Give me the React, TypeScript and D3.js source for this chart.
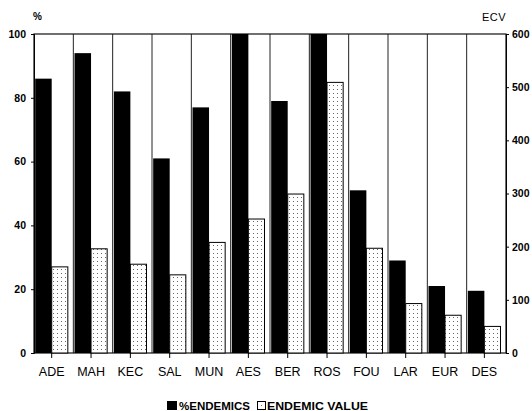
import React, { useEffect, useRef } from "react";
import * as d3 from "d3";

// sites along the x axis
const sites = ["ADE", "MAH", "KEC", "SAL", "MUN", "AES", "BER", "ROS", "FOU", "LAR", "EUR", "DES"];
// % endemics (left axis)
const pctEndemics = [86, 94, 82, 61, 77, 100, 79, 100, 51, 29, 21, 19.5];
// endemic conservation value (right axis)
const endemicValue = [162, 196, 167, 147, 208, 252, 299, 509, 197, 93, 71, 50];
const leftTicks = [0, 20, 40, 60, 80, 100];
const rightTicks = [0, 100, 200, 300, 400, 500, 600];

const App = () => {
  const ref = useRef<SVGSVGElement>(null);

  useEffect(() => {
    const svg = d3.select(ref.current);
    svg.selectAll("*").remove();

    const left = 34, right = 506, top = 34, bottom = 353;
    const font = "Liberation Sans, Arial, sans-serif";

    const x = d3.scaleBand().domain(sites).range([left, right]).padding(0);
    const yL = d3.scaleLinear().domain([0, 100]).range([bottom, top]);
    const yR = d3.scaleLinear().domain([0, 600]).range([bottom, top]);
    const bw = x.bandwidth();

    // dotted fill pattern
    const pat = svg.append("defs").append("pattern")
      .attr("id", "dots")
      .attr("width", 4)
      .attr("height", 4)
      .attr("patternUnits", "userSpaceOnUse");
    pat.append("rect").attr("width", 4).attr("height", 4).attr("fill", "#fff");
    pat.append("rect").attr("x", 1).attr("y", 1).attr("width", 1).attr("height", 1).attr("fill", "#666");

    // vertical separators between sites
    svg.append("g")
      .selectAll("line")
      .data(sites.slice(1))
      .enter()
      .append("line")
      .attr("x1", (d) => x(d)!)
      .attr("x2", (d) => x(d)!)
      .attr("y1", top)
      .attr("y2", bottom)
      .attr("stroke", "#222")
      .attr("stroke-width", 1);

    // frame
    svg.append("rect")
      .attr("x", left)
      .attr("y", top)
      .attr("width", right - left)
      .attr("height", bottom - top)
      .attr("fill", "none")
      .attr("stroke", "#111")
      .attr("stroke-width", 1.2);

    // black bars
    svg.append("g")
      .selectAll("rect")
      .data(sites)
      .enter()
      .append("rect")
      .attr("x", (d) => x(d)! + bw * 0.03)
      .attr("y", (d, i) => yL(pctEndemics[i]))
      .attr("width", bw * 0.42)
      .attr("height", (d, i) => bottom - yL(pctEndemics[i]))
      .attr("fill", "#000");

    // dotted bars
    svg.append("g")
      .selectAll("rect")
      .data(sites)
      .enter()
      .append("rect")
      .attr("x", (d) => x(d)! + bw * 0.45)
      .attr("y", (d, i) => yR(endemicValue[i]))
      .attr("width", bw * 0.41)
      .attr("height", (d, i) => bottom - yR(endemicValue[i]))
      .attr("fill", "url(#dots)")
      .attr("stroke", "#000")
      .attr("stroke-width", 1);

    // left axis
    const gl = svg.append("g").attr("transform", `translate(${left},0)`)
      .call(d3.axisLeft(yL).tickValues(leftTicks).tickSize(3).tickPadding(5));
    gl.select(".domain").attr("stroke", "#000");
    gl.selectAll("text").attr("font-family", font).attr("font-size", 10.5).attr("font-weight", "bold").attr("fill", "#000");

    // right axis
    const gr = svg.append("g").attr("transform", `translate(${right},0)`)
      .call(d3.axisRight(yR).tickValues(rightTicks).tickSize(3).tickPadding(3));
    gr.select(".domain").attr("stroke", "#000");
    gr.selectAll("text").attr("font-family", font).attr("font-size", 10.5).attr("font-weight", "bold").attr("fill", "#000");

    // bottom ticks + site labels
    const gb = svg.append("g").attr("transform", `translate(0,${bottom})`);
    gb.selectAll("line")
      .data(sites)
      .enter()
      .append("line")
      .attr("x1", (d) => x(d)! + bw * 0.45)
      .attr("x2", (d) => x(d)! + bw * 0.45)
      .attr("y1", 0)
      .attr("y2", 5)
      .attr("stroke", "#000");
    gb.selectAll("text")
      .data(sites)
      .enter()
      .append("text")
      .attr("x", (d) => x(d)! + bw * 0.45)
      .attr("y", 23)
      .attr("text-anchor", "middle")
      .attr("font-family", font)
      .attr("font-size", 12.5)
      .attr("fill", "#000")
      .text((d) => d);

    // axis titles
    svg.append("text")
      .attr("x", 33)
      .attr("y", 20)
      .attr("font-family", font)
      .attr("font-size", 10)
      .attr("font-weight", "bold")
      .text("%");
    svg.append("text")
      .attr("x", 506)
      .attr("y", 21)
      .attr("text-anchor", "end")
      .attr("font-family", font)
      .attr("font-size", 11)
      .attr("letter-spacing", 0.5)
      .text("ECV");

    // legend
    const lg = svg.append("g").attr("font-family", font).attr("font-size", 10).attr("font-weight", "bold");
    lg.append("rect").attr("x", 167).attr("y", 401).attr("width", 10).attr("height", 9).attr("fill", "#000");
    lg.append("text").attr("x", 179).attr("y", 410)
      .attr("textLength", 71).attr("lengthAdjust", "spacingAndGlyphs").text("%ENDEMICS");
    lg.append("rect").attr("x", 257.5).attr("y", 401.5).attr("width", 8).attr("height", 8)
      .attr("fill", "url(#dots)").attr("stroke", "#000");
    lg.append("text").attr("x", 267).attr("y", 410)
      .attr("textLength", 101).attr("lengthAdjust", "spacingAndGlyphs").text("ENDEMIC VALUE");
  }, []);

  return (
    <svg ref={ref} width={532} height={411} style={{ position: "absolute", left: 0, top: 0, background: "#fff" }} />
  );
};

export default App;
